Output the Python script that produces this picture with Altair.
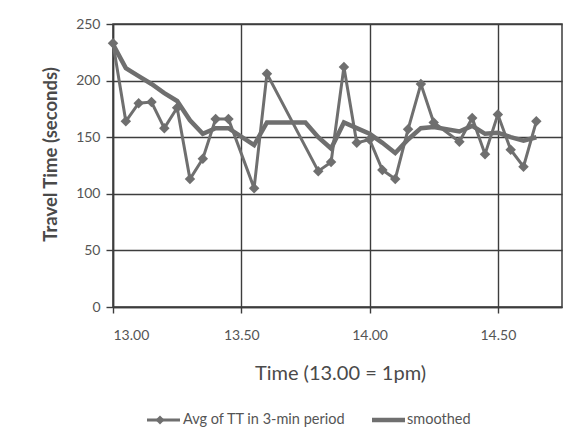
import altair as alt
import pandas as pd

# ---- data ----
time_avg = [13.00, 13.05, 13.10, 13.15, 13.20, 13.25, 13.30, 13.35, 13.40, 13.45,
            13.55, 13.60, 13.80, 13.85, 13.90, 13.95, 14.00, 14.05, 14.10, 14.15,
            14.20, 14.25, 14.35, 14.40, 14.45, 14.50, 14.55, 14.60, 14.65]
tt_avg = [233, 164, 180, 181, 158, 176, 113, 131, 166, 166,
          105, 206, 120, 128, 212, 145, 148, 121, 113, 157,
          197, 163, 146, 167, 135, 170, 139, 124, 164]

time_smooth = [13.00, 13.05, 13.10, 13.15, 13.20, 13.25, 13.30, 13.35, 13.40, 13.45,
               13.55, 13.60, 13.75, 13.80, 13.85, 13.90, 13.95, 14.00, 14.05, 14.10,
               14.15, 14.20, 14.25, 14.35, 14.40, 14.45, 14.50, 14.55, 14.60, 14.65]
tt_smooth = [232, 211, 204, 197, 189, 182, 165, 153, 158, 158,
             143, 163, 163, 150, 140, 163, 158, 153, 145, 136,
             148, 158, 159, 155, 160, 153, 154, 150, 147, 150]

x_ticks = [13.0, 13.5, 14.0, 14.5]
y_ticks = [0, 50, 100, 150, 200, 250]
legend_labels = ["Avg of TT in 3-min period", "smoothed"]

avg_df = pd.DataFrame({"time": time_avg, "tt": tt_avg})
sm_df = pd.DataFrame({"time": time_smooth, "tt": tt_smooth})

W, H = 449, 283
LINE = "#6f6f6f"
GRID = "#3d3d3d"
TXT = "#555555"
FONT = "Lato"

xs = alt.Scale(domain=[13.0, 14.75], nice=False, zero=False)
ys = alt.Scale(domain=[0, 250], nice=False)

x_axis = alt.Axis(values=x_ticks, format=".2f", title="Time (13.00 = 1pm)",
                  grid=True, tickSize=6, labelPadding=15,
                  titleX=227, titleY=66, titleBaseline="middle",
                  titleFontSize=20, titleFontWeight="normal", titleColor="#4a4a4a")
y_axis = alt.Axis(values=y_ticks, title="Travel Time  (seconds)",
                  grid=True, tickSize=7, labelPadding=6,
                  titleX=-63, titleY=130, titleAngle=-90, titleAlign="center",
                  titleBaseline="middle",
                  titleFontSize=18.5, titleFontWeight="bold", titleColor="#4a4a4a")

xenc = alt.X("time:Q", scale=xs, axis=x_axis)
yenc = alt.Y("tt:Q", scale=ys, axis=y_axis)

smooth_line = alt.Chart(sm_df).mark_line(color=LINE, strokeWidth=4.5).encode(x=xenc, y=yenc)
avg_line = alt.Chart(avg_df).mark_line(color=LINE, strokeWidth=3).encode(x=xenc, y=yenc)
avg_pts = alt.Chart(avg_df).mark_point(shape="diamond", filled=True, size=110,
                                       color=LINE, opacity=1).encode(x=xenc, y=yenc)

# ---- manual legend below the chart ----
one = pd.DataFrame({"k": [0]})
LY = 396
leg1_line = alt.Chart(one).mark_rule(color=LINE, strokeWidth=3).encode(
    x=alt.value(34), x2=alt.value(67), y=alt.value(LY))
leg1_pt = alt.Chart(one).mark_point(shape="diamond", filled=True, size=80,
                                    color=LINE, opacity=1).encode(
    x=alt.value(47), y=alt.value(LY))
leg1_txt = alt.Chart(one).mark_text(align="left", baseline="middle", font=FONT,
                                    fontSize=14.5, color=TXT, text=legend_labels[0]).encode(
    x=alt.value(70), y=alt.value(LY))
leg2_line = alt.Chart(one).mark_rule(color=LINE, strokeWidth=4.5).encode(
    x=alt.value(259), x2=alt.value(292), y=alt.value(LY))
leg2_txt = alt.Chart(one).mark_text(align="left", baseline="middle", font=FONT,
                                    fontSize=14.5, color=TXT, text=legend_labels[1]).encode(
    x=alt.value(294), y=alt.value(LY))

chart = alt.layer(
    smooth_line, avg_line, avg_pts,
    leg1_line, leg1_pt, leg1_txt, leg2_line, leg2_txt
).properties(
    width=W, height=H,
    autosize=alt.AutoSizeParams(type="none"),
    padding={"left": 105, "top": 16, "right": 17, "bottom": 125},
    background="white",
).configure_view(
    stroke=GRID, strokeWidth=1.5
).configure_axis(
    gridColor=GRID, gridWidth=1.4, gridOpacity=1,
    domainColor=GRID, domainWidth=1.5,
    tickColor=GRID, tickWidth=1.4,
    labelColor=TXT, labelFont=FONT, labelFontSize=14,
    titleFont=FONT,
)

chart.save("out.html", embed_options={"renderer": "svg", "actions": False})
